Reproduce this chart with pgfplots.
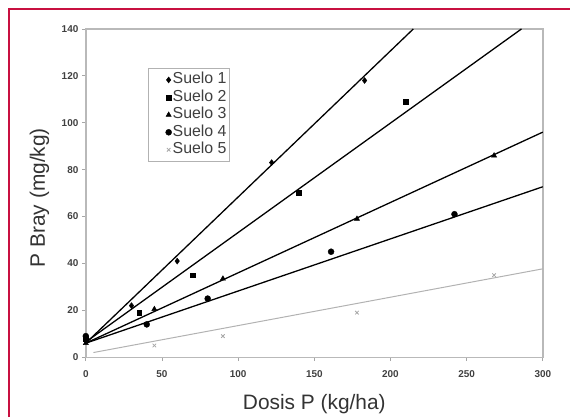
\documentclass[border=0pt]{standalone}
\usepackage{fontspec}
\setmainfont{Liberation Sans}
\usepackage{pgfplots}
\pgfplotsset{compat=1.18}
\definecolor{marco}{RGB}{200,16,64}
\begin{document}
\begin{tikzpicture}[x=1bp,y=1bp]
\path (0,0) rectangle (571,418);
\draw[marco, line width=2.5bp] (9,0) -- (9,409) -- (571,409);
\begin{axis}[
    at={(86bp,60bp)}, anchor=south west,
    scale only axis, width=458bp, height=329bp,
    xmin=0, xmax=300, ymin=0, ymax=140,
    xtick={0,50,...,300}, ytick={0,20,...,140},
    xtick pos=left, ytick pos=left,
    tick align=outside, major tick length=4bp,
    tick style={gray!70, line width=0.8bp},
    axis line style={gray!55, line width=1.4bp},
    /pgf/number format/assume math mode=true,
    ticklabel style={font=\fontsize{10}{11}\selectfont\bfseries, text=black!75},
    xticklabel style={yshift=-6bp},
    xlabel={Dosis P (kg/ha)}, ylabel={P Bray (mg/kg)},
    label style={font=\fontsize{21}{24}\selectfont, text=black!80},
    xlabel style={at={(axis description cs:0.5,-0.158)}, anchor=base},
    ylabel style={at={(axis description cs:-0.0895,0.486)}, anchor=base},
    legend style={at={(axis description cs:0.135,0.881)}, anchor=north west,
        draw=gray!60, font=\fontsize{16}{17}\selectfont, text=black!75,
        row sep=0bp, inner xsep=2bp, inner ysep=3bp,
        nodes={inner sep=1bp, text height=11.5bp, text depth=4bp}},
    legend cell align=left,
    legend image code/.code={
        \path[draw=none, fill=none] (0bp,-1bp) rectangle (21bp,1bp);
        \draw[#1] plot coordinates {(19bp,0bp)};
    },
    mark size=3bp,
]
% puntos medidos
\addplot[only marks, mark=diamond*, black] coordinates {
    (0,7) (30,22) (60,41) (122,83) (183,118)
};
\addplot[only marks, mark=square*, mark size=2.4bp, black] coordinates {
    (0,8) (35,19) (70,35) (140,70) (210,109)
};
\addplot[only marks, mark=triangle*, black] coordinates {
    (0,6) (45,20.5) (90,33.5) (178,59) (268,86)
};
\addplot[only marks, mark=*, black] coordinates {
    (0,9) (40,14) (80,25) (161,45) (242,61)
};
\addplot[only marks, mark=x, mark size=2.5bp, gray!70, line width=0.8bp] coordinates {
    (45,5) (90,9) (178,19) (268,35)
};
\legend{Suelo 1\hspace{6bp}, Suelo 2, Suelo 3, Suelo 4, Suelo 5}
% rectas ajustadas
\addplot[forget plot, black, line width=1.3bp] coordinates {(0,6) (215,140)};
\addplot[forget plot, black, line width=1.3bp] coordinates {(0,6.5) (286,140)};
\addplot[forget plot, black, line width=1.3bp] coordinates {(0,6) (300,96)};
\addplot[forget plot, black, line width=1.3bp] coordinates {(0,6) (300,72.7)};
\addplot[forget plot, gray!60, line width=1bp] coordinates {(5,2) (300,37.7)};
\end{axis}
\end{tikzpicture}
\end{document}
